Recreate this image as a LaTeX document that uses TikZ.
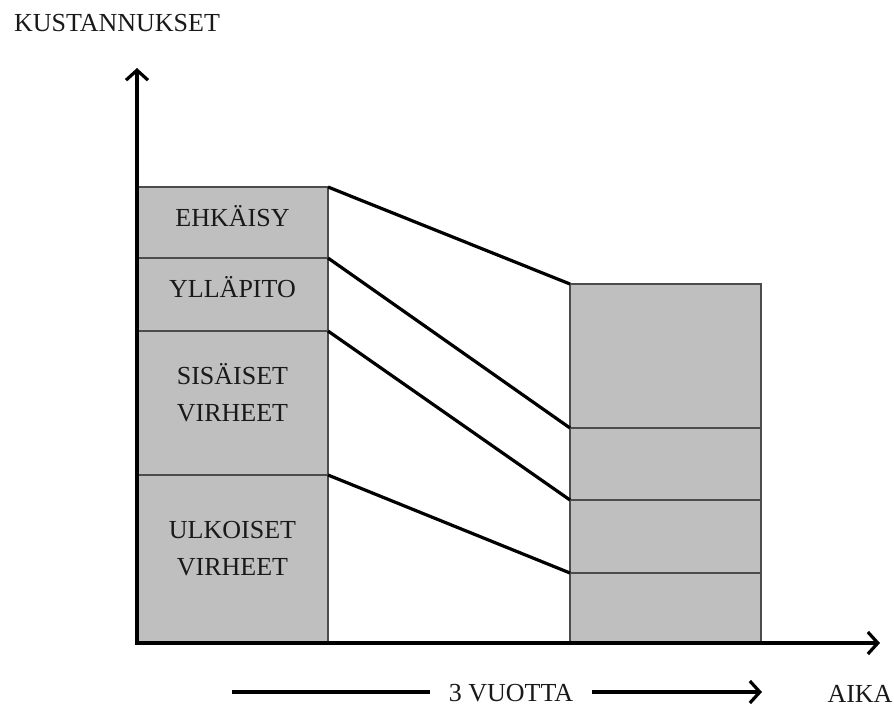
\documentclass[tikz,border=0pt]{standalone}
\usepackage{fontspec}
\setmainfont{Liberation Serif}
\usetikzlibrary{positioning,arrows.meta}

\tikzset{
  seg/.style={draw=black!70,fill=black!25,line width=1pt,minimum width=95.5pt,inner sep=0pt,outer sep=0pt},
  txt/.style={font=\fontsize{13}{18.5}\selectfont,align=center,text=black!90},
  axis/.style={line width=1.6pt,-{Straight Barb[length=5pt,width=11pt]}},
  link/.style={line width=1.6pt},
}

\begin{document}
\begin{tikzpicture}[x=0.5pt,y=-0.5pt]
\useasboundingbox (0,0) rectangle (894,709);

% left bar
\node[seg,anchor=north west,minimum height=35.5pt,label={[txt,yshift=3pt]center:EHKÄISY}] (ehk) at (137,187) {};
\node[seg,below=0pt of ehk,minimum height=36.5pt,label={[txt,yshift=3.5pt]center:YLLÄPITO}] (yll) {};
\node[seg,below=0pt of yll,minimum height=72pt,label={[txt,yshift=5pt]center:SISÄISET\\VIRHEET}] (sis) {};
\node[seg,below=0pt of sis,minimum height=84pt,label={[txt,yshift=5pt]center:ULKOISET\\VIRHEET}] (ulk) {};

% right bar
\node[seg,anchor=north west,minimum height=72pt] (r1) at (570,284) {};
\node[seg,below=0pt of r1,minimum height=36pt] (r2) {};
\node[seg,below=0pt of r2,minimum height=36.5pt] (r3) {};
\node[seg,below=0pt of r3,minimum height=35pt] (r4) {};

% connecting lines
\draw[link] (ehk.north east) -- (r1.north west);
\draw[link] (yll.north east) -- (r2.north west);
\draw[link] (sis.north east) -- (r3.north west);
\draw[link] (ulk.north east) -- (r4.north west);

% axes
\coordinate (o) at (137,643);
\coordinate (ytop) at (137,68);
\coordinate (xend) at (880,643);
\draw[axis,{Straight Barb[length=5pt,width=11pt]}-{Straight Barb[length=5pt,width=11pt]}] (ytop) -- (o) -- (xend);

\node[txt] (kust) at (117,23) {KUSTANNUKSET};
\node[txt] (aika) at (860,694) {AIKA};

% time arrow
\coordinate (vstart) at (232,692);
\coordinate (vend) at (762,692);
\node[txt,inner xsep=9pt] (vuotta) at (511,693) {3 VUOTTA};
\draw[link] (vstart) -- (vstart -| vuotta.west);
\draw[axis] (vstart -| vuotta.east) -- (vend);
\end{tikzpicture}
\end{document}
